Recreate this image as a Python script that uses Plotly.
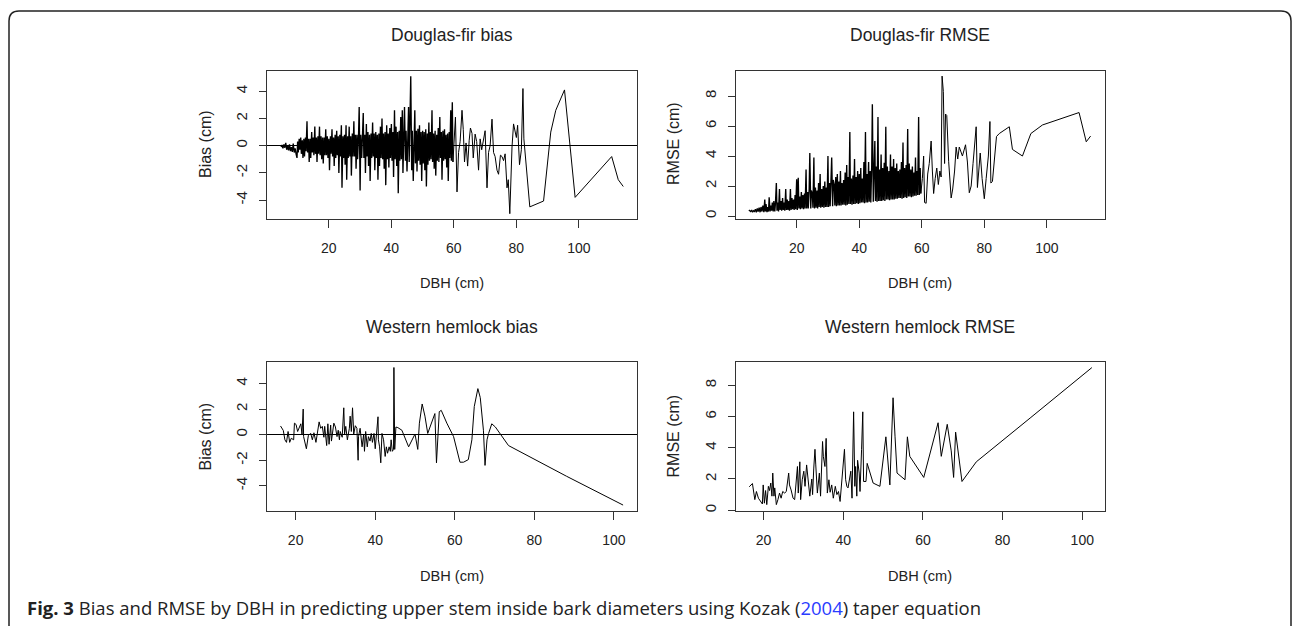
import plotly.graph_objects as go

# ---------------- Douglas-fir (shared DBH grid for the dense part) ----------------
DF_DENSE_DBH = [
    4.7, 5.0, 5.3, 5.6, 5.9, 6.2, 6.5, 6.8, 7.1, 7.4, 7.7, 8.0, 8.3, 8.6, 8.9, 9.2, 9.5, 9.8,
    10.0, 10.2, 10.5, 10.7, 11.0, 11.2, 11.5, 11.7, 12.0, 12.2, 12.5, 12.7, 13.0, 13.2, 13.5, 13.7,
    14.0, 14.2, 14.5, 14.7, 15.0, 15.2, 15.5, 15.7, 16.0, 16.2, 16.5, 16.7, 17.0, 17.2, 17.5, 17.7,
    18.0, 18.2, 18.5, 18.7, 19.0, 19.2, 19.5, 19.7, 20.0, 20.2, 20.5, 20.7, 21.0, 21.2, 21.5, 21.7,
    22.0, 22.2, 22.5, 22.7, 23.0, 23.2, 23.5, 23.7, 24.0, 24.2, 24.5, 24.7, 25.0, 25.2, 25.5, 25.7,
    26.0, 26.2, 26.5, 26.7, 27.0, 27.2, 27.5, 27.7, 28.0, 28.2, 28.5, 28.7, 29.0, 29.2, 29.5, 29.7,
    30.0, 30.2, 30.5, 30.7, 31.0, 31.2, 31.5, 31.7, 32.0, 32.2, 32.5, 32.7, 33.0, 33.2, 33.5, 33.7,
    34.0, 34.2, 34.5, 34.7, 35.0, 35.2, 35.5, 35.7, 36.0, 36.2, 36.5, 36.7, 37.0, 37.2, 37.5, 37.7,
    38.0, 38.2, 38.5, 38.7, 39.0, 39.2, 39.5, 39.7, 40.0, 40.2, 40.5, 40.7, 41.0, 41.2, 41.5, 41.7,
    42.0, 42.2, 42.5, 42.7, 43.0, 43.2, 43.5, 43.7, 44.0, 44.2, 44.5, 44.7, 45.0, 45.2, 45.5, 45.7,
    46.0, 46.2, 46.5, 46.7, 47.0, 47.2, 47.5, 47.7, 48.0, 48.2, 48.5, 48.7, 49.0, 49.2, 49.5, 49.7,
    50.0, 50.2, 50.5, 50.7, 51.0, 51.2, 51.5, 51.7, 52.0, 52.2, 52.5, 52.7, 53.0, 53.2, 53.5, 53.7,
    54.0, 54.2, 54.5, 54.7, 55.0, 55.2, 55.5, 55.7, 56.0, 56.2, 56.5, 56.7, 57.0, 57.2, 57.5, 57.7,
    58.0, 58.2, 58.5, 58.7, 59.0, 59.2, 59.5, 59.7,
]

DF_DENSE_BIAS = [
    -0.1, 0.05, -0.2, 0.1, -0.15, 0.2, -0.3, 0.0, -0.35, 0.1, -0.4, -0.1, -0.45, 0.15, -0.5, -0.2, -0.6, -0.9,
    0.3, -0.5, 0.5, -0.3,   0.6, -0.6, 0.4, -0.9,   0.5, -0.8, 0.6, -0.4,   1.8, -0.5, 0.5, -1.2,
    0.5, -0.9, 1.0, -0.5,   0.6, -0.7, 1.4, -0.6,   0.6, -1.2, 0.7, -0.6,   1.4, -0.7, 0.7, -1.0,
    0.6, -1.3, 0.6, -0.7,   1.2, -0.7, 0.7, -0.9,   0.5, -1.8, 0.7, -0.6,   1.2, -0.8, 0.6, -1.5,
    0.8, -0.9, 1.1, -0.7,   0.7, -2.0, 0.8, -0.8,   1.5, -3.1, 0.7, -0.9,   0.8, -1.4, 1.5, -2.5,
    0.7, -0.9, 1.4, -0.8,   0.7, -2.2, 0.9, -0.8,   1.8, -0.8, 0.8, -1.7,   0.8, -1.0, 0.8, 2.85,
    -3.3, 0.8, -0.9, 1.0,   2.4, -0.9, 0.8, -2.0,   1.6, -0.8, 1.0, -1.5,   0.8, -2.6, 0.9, -0.9,
    1.7, -0.8, 0.9, -1.8,   1.0, -0.9, 0.8, -2.5,   0.9, -1.5, 1.4, -0.9,   2.0, -1.0, 0.9, -1.7,
    1.0, -2.9, 1.5, -1.0,   0.9, -1.6, 1.3, -0.9,   1.6, -1.1, 1.0, -2.3,   2.6, -1.0, 1.4, -1.5,
    1.0, -3.5, 1.1, -1.1,   2.1, -1.0, 2.6, -2.0,   1.2, 2.85, -1.1, 1.1,   -1.9, 1.1, 2.85, -1.2,
    1.4, 5.1, -1.8, 1.1,    -2.6, 1.2, 2.6, -1.3,   1.1, -1.9, 1.25, -1.1,  1.5, -1.4, 1.0, -2.6,
    1.1, -1.3, 1.0, -1.8,   1.2, -3.0, 0.9, -1.4,   1.7, -1.1, 1.0, -1.0,   2.6, -1.2, 0.9, -1.7,
    1.1, -2.2, 0.8, -1.1,   1.3, -1.2, 2.1, -0.9,   1.0, -2.5, 1.1, -1.1,   1.2, -1.0, 0.8, -1.6,
    0.9, -2.6, 1.0, -0.9,   2.6, -1.1, 3.2, -1.2,
]

DF_DENSE_RMSE = [
    0.4, 0.35, 0.3, 0.4, 0.25, 0.35, 0.3, 0.45, 0.25, 0.5, 0.3, 0.55, 0.25, 0.6, 0.3, 0.7, 0.25, 1.1,
    0.3, 0.8, 0.25, 0.6,    0.3, 1.25, 0.3, 0.7,    0.35, 0.9, 0.3, 1.0,    0.3, 0.8, 2.2, 0.35,
    0.9, 0.3, 1.8, 0.4,     1.0, 0.35, 1.2, 0.4,    0.9, 0.35, 1.8, 0.4,    1.1, 0.4, 1.0, 0.35,
    1.8, 0.4, 1.2, 0.45,    1.1, 0.4, 1.4, 0.45,    2.45, 0.4, 2.55, 0.5,   1.3, 0.45, 1.6, 0.5,
    1.4, 0.45, 1.5, 0.5,    3.1, 0.5, 1.6, 0.5,     1.8, 4.2, 0.5, 1.7,     1.5, 0.55, 3.9, 0.5,
    1.9, 0.55, 1.7, 0.5,    2.2, 0.6, 2.8, 0.55,    1.8, 0.6, 2.0, 0.55,    2.3, 0.6, 1.9, 0.6,
    4.0, 0.6, 2.2, 0.65,    2.0, 3.9, 0.65, 2.4,    2.1, 0.7, 2.6, 0.65,    2.8, 0.7, 2.3, 0.7,
    3.0, 0.7, 2.2, 0.75,    2.4, 0.75, 2.9, 0.7,    3.4, 0.75, 2.6, 0.8,    5.6, 0.8, 2.5, 0.75,
    2.7, 0.8, 3.8, 0.8,     2.6, 0.85, 3.0, 0.8,    2.8, 0.85, 3.2, 0.9,    2.5, 0.9, 3.6, 0.85,
    5.6, 0.9, 2.8, 0.9,     3.6, 0.95, 3.0, 0.9,    3.4, 7.45, 0.95, 3.2,   5.0, 1.0, 3.3, 0.95,
    6.6, 1.0, 3.1, 1.0,     4.1, 1.0, 3.2, 1.05,    3.55, 1.0, 5.95, 1.1,   3.3, 1.1, 3.0, 1.05,
    4.1, 1.1, 3.3, 1.1,     3.8, 1.1, 3.2, 1.15,    3.5, 1.15, 3.0, 1.2,    3.1, 1.2, 3.6, 1.15,
    4.9, 1.2, 3.2, 1.25,    3.4, 1.2, 5.8, 1.3,     3.5, 1.3, 3.1, 1.25,    3.3, 1.3, 2.9, 1.35,
    3.9, 1.35, 3.0, 1.4,    6.6, 1.4, 3.2, 1.5,
]

DF_BIAS_TAIL_DBH = [60.2, 60.5, 61.0, 61.5, 62.0, 62.6, 63.0, 63.4, 63.9, 64.4, 64.9, 65.3, 65.8, 66.2,
                    66.8, 67.3, 67.9, 68.4, 68.9, 69.5, 70.0, 70.6, 71.1, 71.6, 72.2, 72.7, 73.2, 73.8,
                    74.3, 74.9, 75.4, 75.9, 76.4, 77.0, 77.4, 77.9, 78.3, 78.6, 79.1, 79.6, 80.0, 80.4,
                    81.0, 81.6, 82.1, 82.4, 84.3, 88.7, 91.0, 92.6, 95.4, 98.8, 110.5, 112.6, 114.2]
DF_BIAS_TAIL = [0.8, 2.1, -3.4, -0.5, 0.3, 2.6, 1.2, -1.2, 0.2, -1.5, 0.4, 1.3, 0.9, -0.9,
                0.85, 0.3, -1.8, 0.5, -0.3, 0.6, 1.1, -3.1, -0.5, 0.0, 1.95, -0.5, -0.8, -1.8,
                -2.1, -0.7, -0.8, -1.1, -0.6, -3.1, -2.5, -5.0, -1.8, -0.1, 1.6, 0.9, 0.6, 1.5,
                -1.4, -0.3, 4.2, 0.5, -4.5, -4.07, 1.0, 2.6, 4.1, -3.8, -0.8, -2.5, -3.0]

DF_RMSE_TAIL_DBH = [60.2, 60.6, 60.9, 61.4, 61.9, 62.4, 63.0, 63.4, 63.8, 64.3, 64.8, 65.3, 65.8, 66.2,
                    66.5, 66.9, 67.3, 67.6, 68.0, 68.6, 69.4, 69.9, 70.5, 71.0, 71.5, 72.0, 72.4, 73.0,
                    74.0, 74.6, 75.2, 75.8, 76.4, 77.0, 77.4, 77.8, 78.3, 78.7, 79.3, 80.0, 80.6, 81.3,
                    81.8, 82.1, 82.6, 83.9, 84.8, 88.0, 89.0, 92.2, 94.9, 98.6, 110.3, 112.6, 114.0]
DF_RMSE_TAIL = [2.5, 4.0, 0.9, 0.85, 2.8, 3.5, 5.0, 3.0, 1.5, 2.5, 3.2, 2.1, 3.0, 2.6,
                9.33, 8.3, 3.5, 6.8, 6.7, 3.65, 1.2, 1.8, 3.0, 4.6, 3.8, 4.6, 4.3, 4.0,
                4.75, 3.6, 1.55, 2.0, 3.5, 4.8, 5.95, 1.9, 3.5, 4.2, 2.5, 1.15, 2.5, 4.0,
                6.3, 2.2, 2.3, 5.3, 5.5, 5.95, 4.44, 4.0, 5.5, 6.07, 6.9, 4.95, 5.33]

# ---------------- Western hemlock ----------------
WH_BIAS_DBH = [16.2, 16.9, 17.3, 17.7, 18.1, 18.5, 18.9, 19.5, 19.7, 20.1, 20.5, 20.9, 21.3, 21.6, 21.9,
               22.0, 22.6, 22.7, 23.2, 23.8, 24.2, 24.6, 25.1, 25.5, 25.9, 26.3, 26.7, 27.1, 27.3, 27.8,
               28.1, 28.4, 28.8, 29.0, 29.4, 29.6, 30.0, 30.4, 30.7, 31.0, 31.2, 31.7, 32.1, 32.3, 32.6,
               33.0, 33.5, 33.7, 34.0, 34.3, 34.6, 35.0, 35.4, 35.7, 35.8, 36.2, 36.7, 37.1, 37.3, 37.6,
               38.0, 38.3, 38.7, 39.0, 39.3, 39.7, 40.0, 40.3, 40.7, 40.8, 41.1, 41.4, 41.7, 42.1, 42.5,
               42.8, 43.1, 43.5, 43.8, 44.0, 44.3, 44.6, 44.7, 44.9, 45.2, 45.7, 46.7, 48.4, 50.0, 50.7,
               51.1, 51.8, 52.5, 53.2, 53.8, 55.0, 55.4, 56.1, 56.6, 58.0, 59.7, 60.5, 61.3, 62.2, 63.4,
               64.3, 64.9, 65.8, 66.4, 67.2, 67.6, 68.1, 68.5, 69.3, 70.2, 73.5, 88.1, 102.3]
WH_BIAS = [0.68, 0.33, -0.4, -0.6, 0.25, -0.6, -0.28, -0.4, 0.9, 0.8, 0.25, 0.6, 0.85, 0.05, 2.0,
           -0.15, -0.95, -1.1, -0.05, 0.1, -0.4, 0.15, -0.6, 0.15, 1.0, 0.5, 0.65, -0.2, 0.65, -0.85,
           0.85, -0.75, 0.75, -0.5, 0.25, 0.9, 0.6, -0.15, 0.35, -0.4, 0.25, -0.2, 2.1, 0.05, 0.65,
           -0.4, 0.5, 1.45, 0.25, 2.1, 0.05, 0.7, 0.5, -2.0, -0.15, 0.5, -0.95, 0.05, -1.3, 0.25,
           -0.95, -0.15, -0.5, 0.1, -0.6, 0.1, -1.1, 0.35, 1.4, -0.4, -0.95, -2.2, 0.1, -0.4, -1.7,
           -0.95, -1.45, -0.95, -1.3, -0.4, -1.3, -1.15, 5.25, -1.15, 0.6, 0.55, 0.35, -0.95, 0.05, -1.15,
           0.9, 2.4, 1.45, 0.1, 0.6, 1.65, -2.2, 1.8, 1.9, 0.9, -0.15, -1.1, -2.15, -2.15, -1.95,
           -0.4, 2.2, 3.6, 2.9, 0.35, -2.4, -0.4, 0.1, 0.85, 0.6, -0.85, -3.25, -5.5]

WH_RMSE_DBH = [16.4, 17.2, 17.8, 18.2, 18.7, 19.3, 19.7, 19.9, 20.2, 20.5, 20.8, 21.2, 21.5, 21.8, 22.1,
               22.3, 22.6, 22.8, 23.2, 23.6, 24.0, 24.4, 24.8, 25.3, 25.7, 26.3, 26.5, 26.9, 27.4, 27.8,
               28.2, 28.5, 28.7, 29.1, 29.3, 29.7, 30.1, 30.4, 30.8, 31.2, 31.6, 32.1, 32.3, 32.6, 32.9,
               33.1, 33.5, 34.0, 34.3, 34.8, 35.0, 35.4, 35.7, 36.0, 36.4, 36.7, 37.1, 37.5, 38.0, 38.4,
               38.8, 39.2, 39.6, 40.1, 40.3, 40.6, 40.9, 41.2, 41.6, 41.9, 42.2, 42.6, 42.9, 43.1, 43.4,
               43.6, 44.0, 44.2, 44.6, 44.9, 45.1, 45.7, 46.0, 46.7, 47.5, 49.2, 50.7, 51.7, 52.3, 52.5,
               53.0, 53.5, 55.5, 56.1, 56.7, 60.2, 63.8, 64.6, 66.1, 67.1, 67.7, 68.2, 69.8, 73.4, 86.9,
               102.4]
WH_RMSE = [1.5, 1.71, 0.68, 1.2, 0.77, 0.56, 0.4, 1.62, 0.45, 1.26, 0.36, 1.53, 1.26, 1.74, 0.9,
           2.38, 0.9, 1.43, 0.36, 0.68, 1.1, 0.77, 1.2, 1.1, 1.2, 2.38, 1.62, 1.3, 0.77, 0.68,
           2.1, 2.8, 1.1, 3.1, 0.68, 1.95, 2.5, 1.53, 2.9, 1.62, 0.9, 2.0, 1.0, 2.7, 3.9,
           2.9, 1.1, 2.38, 0.9, 4.4, 3.45, 2.8, 4.6, 1.1, 1.95, 1.15, 1.62, 0.77, 1.53, 1.0,
           1.2, 0.56, 1.84, 3.45, 3.9, 1.95, 1.53, 1.43, 2.27, 2.5, 0.77, 6.3, 1.53, 2.8, 0.9,
           3.2, 2.38, 1.2, 3.9, 6.3, 1.84, 1.84, 3.0, 2.38, 1.74, 1.53, 4.7, 1.62, 6.3, 7.2,
           4.7, 2.38, 1.95, 4.7, 3.45, 2.1, 5.6, 3.45, 5.5, 3.8, 2.1, 5.0, 1.84, 3.1, 5.9,
           9.13]

# tick labels
X_TICKS = [20, 40, 60, 80, 100]
BIAS_TICKS = [-4, -2, 0, 2, 4]
RMSE_TICKS = [0, 2, 4, 6, 8]

assert len(DF_DENSE_DBH) == len(DF_DENSE_BIAS) == len(DF_DENSE_RMSE), (len(DF_DENSE_DBH), len(DF_DENSE_BIAS), len(DF_DENSE_RMSE))
assert len(DF_BIAS_TAIL_DBH) == len(DF_BIAS_TAIL)
assert len(DF_RMSE_TAIL_DBH) == len(DF_RMSE_TAIL)
assert len(WH_BIAS_DBH) == len(WH_BIAS), (len(WH_BIAS_DBH), len(WH_BIAS))
assert len(WH_RMSE_DBH) == len(WH_RMSE), (len(WH_RMSE_DBH), len(WH_RMSE))

W, H = 1292, 626
def fx(px):
    return px / W
def fy(py):
    return 1 - py / H

FONT = "Liberation Sans, Arial, sans-serif"
INK = "#222222"

fig = go.Figure()
thin = dict(color="black", width=1)
dense = dict(color="black", width=1.35)

# Douglas-fir: the heavily over-plotted small-DBH part and the sparse large-DBH part
fig.add_trace(go.Scatter(x=DF_DENSE_DBH, y=DF_DENSE_BIAS, mode="lines", line=dense,
                         xaxis="x", yaxis="y", showlegend=False))
fig.add_trace(go.Scatter(x=DF_DENSE_DBH[-1:] + DF_BIAS_TAIL_DBH, y=DF_DENSE_BIAS[-1:] + DF_BIAS_TAIL,
                         mode="lines", line=thin, xaxis="x", yaxis="y", showlegend=False))
fig.add_trace(go.Scatter(x=DF_DENSE_DBH, y=DF_DENSE_RMSE, mode="lines", line=dense,
                         xaxis="x2", yaxis="y2", showlegend=False))
fig.add_trace(go.Scatter(x=DF_DENSE_DBH[-1:] + DF_RMSE_TAIL_DBH, y=DF_DENSE_RMSE[-1:] + DF_RMSE_TAIL,
                         mode="lines", line=thin, xaxis="x2", yaxis="y2", showlegend=False))
# Western hemlock
fig.add_trace(go.Scatter(x=WH_BIAS_DBH, y=WH_BIAS, mode="lines", line=thin, xaxis="x3", yaxis="y3", showlegend=False))
fig.add_trace(go.Scatter(x=WH_RMSE_DBH, y=WH_RMSE, mode="lines", line=thin, xaxis="x4", yaxis="y4", showlegend=False))

left_dom = [fx(267), fx(637)]
right_dom = [fx(735.7), fx(1105)]
top_dom = [fy(219), fy(71)]
bot_dom = [fy(510.7), fy(362)]

def xax(domain, anchor, rng):
    return dict(domain=domain, anchor=anchor, range=rng, showgrid=False, zeroline=False,
                showline=True, mirror=True, linecolor="#333", linewidth=1,
                ticks="outside", ticklen=8, tickwidth=1, tickcolor="#333",
                tickmode="array", tickvals=X_TICKS, ticktext=[str(v) for v in X_TICKS],
                tickfont=dict(family=FONT, size=14, color=INK), ticklabelstandoff=8)

def yax(domain, anchor, rng, ticks, zero):
    return dict(domain=domain, anchor=anchor, range=rng, showgrid=False,
                zeroline=zero, zerolinecolor="black", zerolinewidth=1,
                showline=True, mirror=True, linecolor="#333", linewidth=1,
                ticks="outside", ticklen=7, tickwidth=1, tickcolor="#333",
                tickmode="array", tickvals=ticks, ticktext=[str(v) for v in ticks],
                tickangle=-90, tickfont=dict(family=FONT, size=15, color=INK), ticklabelstandoff=6)

fig.update_layout(
    width=W, height=H, margin=dict(l=0, r=0, t=0, b=0),
    paper_bgcolor="white", plot_bgcolor="white",
    xaxis=xax(left_dom, "y", [0.2, 118.6]),
    yaxis=yax(top_dom, "x", [-5.39, 5.49], BIAS_TICKS, True),
    xaxis2=xax(right_dom, "y2", [0.5, 118.6]),
    yaxis2=yax(top_dom, "x2", [-0.2, 9.67], RMSE_TICKS, False),
    xaxis3=xax(left_dom, "y3", [12.8, 105.8]),
    yaxis3=yax(bot_dom, "x3", [-5.94, 5.68], BIAS_TICKS, True),
    xaxis4=xax(right_dom, "y4", [13.0, 105.7]),
    yaxis4=yax(bot_dom, "x4", [-0.03, 9.49], RMSE_TICKS, False),
)

def ann(text, x, y, size, angle=0, xanchor="center"):
    return dict(text=text, x=fx(x), y=fy(y), xref="paper", yref="paper", showarrow=False,
                xanchor=xanchor, yanchor="middle", textangle=angle,
                font=dict(family=FONT, size=size, color=INK))

annotations = [
    ann("Douglas-fir bias", 452, 35, 17.5),
    ann("Douglas-fir RMSE", 920.3, 35, 17.5),
    ann("Western hemlock bias", 452, 326.7, 17.5),
    ann("Western hemlock RMSE", 920.3, 326.7, 17.5),
    ann("DBH (cm)", 452, 283.3, 14.6),
    ann("DBH (cm)", 920.3, 283.3, 14.6),
    ann("DBH (cm)", 452, 576, 14.6),
    ann("DBH (cm)", 920.3, 576, 14.6),
    ann("Bias (cm)", 205, 144, 16, angle=-90),
    ann("RMSE (cm)", 673, 144, 16, angle=-90),
    ann("Bias (cm)", 205, 436.5, 16, angle=-90),
    ann("RMSE (cm)", 673, 436.5, 16, angle=-90),
    dict(text="<b>Fig. 3</b> Bias and RMSE by DBH in predicting upper stem inside bark diameters using Kozak "
              "(<span style='color:#2a3cff'>2004</span>) taper equation",
         x=fx(25), y=fy(607), xref="paper", yref="paper", showarrow=False,
         xanchor="left", yanchor="middle",
         font=dict(family="Open Sans, Noto Sans, sans-serif", size=18.5, color="#222")),
]
fig.update_layout(annotations=annotations)

# rounded frame around the figure (open at the bottom)
r = 10
path = (f"M {fx(9)},{fy(630)} L {fx(9)},{fy(11 + r)} Q {fx(9)},{fy(11)} {fx(9 + r)},{fy(11)} "
        f"L {fx(1291 - r)},{fy(11)} Q {fx(1291)},{fy(11)} {fx(1291)},{fy(11 + r)} L {fx(1291)},{fy(630)}")
fig.add_shape(type="path", path=path, xref="paper", yref="paper",
              line=dict(color="#222", width=1.5), layer="above")

fig.write_html("out.html")
